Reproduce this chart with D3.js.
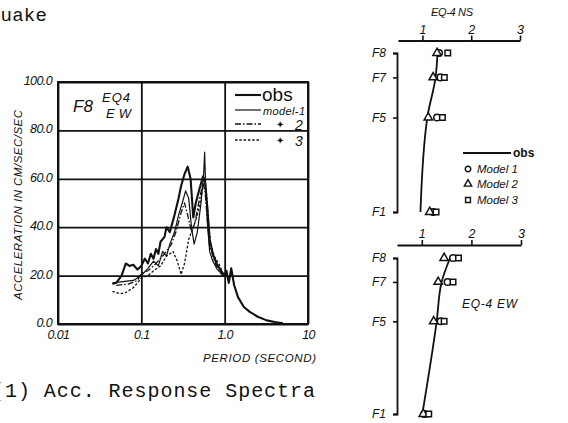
<!DOCTYPE html>
<html>
<head>
<meta charset="utf-8">
<script src="https://cdn.jsdelivr.net/npm/d3@7"></script>
<style>
  body { margin: 0; background: #fff; }
  svg { display: block; }
  text { fill: #111; font-family: "Liberation Sans", Arial, sans-serif; }
  .it { font-style: italic; }
  .mono { font-family: "Liberation Mono", "DejaVu Sans Mono", monospace; }
</style>
</head>
<body>
<svg id="chart" width="568" height="423"></svg>
<script>
// ---- spectrum (left panel) ----
var periodTicks = [0.01, 0.1, 1, 10];
var periodTickLabels = ["0.01", "0.1", "1.0", "10"];
var accTicks = [0, 20, 40, 60, 80, 100];

// [period (s), acceleration (cm/s/s)]
var obsSpectrum = [[0.045,16.5],[0.05,17],[0.058,20],[0.065,25],[0.072,24],[0.08,24.5],[0.09,22.5],[0.1,24],
  [0.11,27],[0.12,25],[0.13,29],[0.14,27],[0.15,31],[0.16,29],[0.17,34],[0.19,36],[0.2,40],[0.22,38],
  [0.25,45],[0.28,52],[0.3,57],[0.33,62],[0.36,65],[0.39,60],[0.42,44],[0.45,50],[0.5,56],[0.55,61],
  [0.58,59],[0.62,48],[0.66,35],[0.72,29],[0.8,25],[0.9,22],[1.0,20],[1.05,22],[1.12,17],[1.2,23],
  [1.3,16],[1.45,11],[1.7,7],[2.0,5],[2.5,3],[3.2,1.5],[4.0,0.8],[5.0,0.3]];
var model1Spectrum = [[0.045,17],[0.06,17.5],[0.08,18],[0.1,20],[0.12,23],[0.14,26],[0.16,24],[0.18,30],
  [0.2,28],[0.22,33],[0.25,38],[0.28,45],[0.31,50],[0.34,55],[0.37,52],[0.4,40],[0.43,33],[0.47,38],
  [0.52,50],[0.56,62],[0.575,71],[0.59,58],[0.62,42],[0.66,30],[0.72,26],[0.8,23],[0.9,21],[1.0,20]];
var model2Spectrum = [[0.05,16],[0.07,16.5],[0.09,18],[0.1,21],[0.12,22],[0.14,24],[0.17,27],[0.2,30],
  [0.23,33],[0.26,38],[0.3,46],[0.33,50],[0.36,45],[0.4,38],[0.44,42],[0.5,52],[0.55,58],[0.58,55],
  [0.62,43],[0.66,32],[0.7,30],[0.75,26],[0.85,22],[0.95,20]];
var model3Spectrum = [[0.045,13.5],[0.055,12.5],[0.065,13],[0.08,15],[0.09,17],[0.1,19],[0.12,20],[0.14,22],
  [0.17,24],[0.2,28],[0.24,30],[0.27,26],[0.3,20.5],[0.33,25],[0.37,35],[0.42,40],[0.47,45],[0.52,52],
  [0.57,60],[0.6,56],[0.64,42],[0.68,33],[0.75,28],[0.85,25],[0.95,21],[1.0,20.5]];

// ---- floor profiles (right panels) ----
var floorNames = ["F1", "F5", "F7", "F8"];
var floorHeights = [0, 12, 17.1, 20.2];
var ratioTicks = [1, 2, 3];

var nsObs    = [0.96, 1.10, 1.27, 1.31];
var nsModel1 = [1.22, 1.30, 1.37, 1.34];
var nsModel2 = [1.15, 1.12, 1.22, 1.30];
var nsModel3 = [1.28, 1.41, 1.45, 1.52];

var ewObs    = [1.01, 1.30, 1.40, 1.57];
var ewModel1 = [1.05, 1.38, 1.52, 1.63];
var ewModel2 = [1.03, 1.24, 1.33, 1.45];
var ewModel3 = [1.14, 1.45, 1.63, 1.74];

var svg = d3.select("#chart");
var ink = "#111";

// page text fragments (cropped at the left edge, as in the scan)
svg.append("text").attr("class", "mono").attr("x", -70).attr("y", 21)
  .attr("font-size", 19).attr("textLength", 117).text("Earthquake");
svg.append("text").attr("class", "mono").attr("x", -8).attr("y", 397)
  .attr("font-size", 20).attr("textLength", 323).text("(1) Acc. Response Spectra");

// ================= left: spectrum =================
var xL = d3.scaleLog().domain([0.01, 10]).range([58, 308]);
var yL = d3.scaleLinear().domain([0, 100]).range([324, 82]);

var gy = svg.append("g").attr("transform", "translate(58,0)")
  .call(d3.axisLeft(yL).tickValues(accTicks).tickSize(-250).tickPadding(6)
    .tickFormat(d3.format(".1f")));
var gx = svg.append("g").attr("transform", "translate(0,324)")
  .call(d3.axisBottom(xL).tickValues(periodTicks).tickSize(-242).tickPadding(6)
    .tickFormat(function(d, i) { return periodTickLabels[i]; }));
[gy, gx].forEach(function(g) {
  g.select(".domain").remove();
  g.selectAll("line").attr("stroke", ink).attr("stroke-width", 1.8);
  g.selectAll("text").attr("class", "it").attr("font-size", 12.5)
    .attr("fill", ink).attr("letter-spacing", -0.6);
});
gy.selectAll("text").attr("dy", "0.2em");

svg.append("rect").attr("x", 58).attr("y", 82).attr("width", 250).attr("height", 242)
  .attr("fill", "none").attr("stroke", ink).attr("stroke-width", 2);

var specLine = d3.line()
  .x(function(d) { return xL(d[0]); })
  .y(function(d) { return yL(d[1]); });

var specSeries = [
  { data: model3Spectrum, w: 1.3, dash: "2.5,1.8" },
  { data: model2Spectrum, w: 1.3, dash: "6,2,1.5,2" },
  { data: model1Spectrum, w: 1.2, dash: null },
  { data: obsSpectrum,    w: 2.1, dash: null }
];
specSeries.forEach(function(s) {
  svg.append("path").datum(s.data).attr("d", specLine)
    .attr("fill", "none").attr("stroke", ink).attr("stroke-width", s.w)
    .attr("stroke-linejoin", "round").attr("stroke-dasharray", s.dash);
});

// axis titles
svg.append("text").attr("class", "it").attr("font-size", 11.5)
  .attr("transform", "translate(22,205) rotate(-90)").attr("text-anchor", "middle")
  .attr("textLength", 190).text("ACCELERATION IN CM/SEC/SEC");
svg.append("text").attr("class", "it").attr("font-size", 11.5).attr("x", 203).attr("y", 362)
  .attr("textLength", 113).text("PERIOD  (SECOND)");

// panel label
svg.append("text").attr("class", "it").attr("font-size", 17).attr("x", 73).attr("y", 112).text("F8");
svg.append("text").attr("class", "it").attr("font-size", 13).attr("x", 102).attr("y", 102)
  .attr("textLength", 28).text("EQ4");
svg.append("text").attr("class", "it").attr("font-size", 13).attr("x", 106).attr("y", 118)
  .attr("textLength", 25).text("EW");

// legend
var legL = [
  { y: 95,  w: 2.1, dash: null, label: "obs" },
  { y: 110, w: 1.2, dash: null, label: "model-1" },
  { y: 124, w: 1.3, dash: "6,2,1.5,2", label: "2" },
  { y: 140, w: 1.3, dash: "2.5,1.8", label: "3" }
];
legL.forEach(function(d, i) {
  svg.append("line").attr("x1", 235).attr("x2", 261).attr("y1", d.y).attr("y2", d.y)
    .attr("stroke", ink).attr("stroke-width", d.w).attr("stroke-dasharray", d.dash);
  if (i === 0) {
    svg.append("text").attr("x", 262).attr("y", d.y + 6).attr("font-size", 19).text(d.label);
  } else if (i === 1) {
    svg.append("text").attr("class", "it").attr("x", 263).attr("y", d.y + 5)
      .attr("font-size", 11).attr("textLength", 42).text(d.label);
  } else {
    svg.append("text").attr("x", 276).attr("y", d.y + 4).attr("font-size", 10).text("\u2726");
    svg.append("text").attr("class", "it").attr("x", 295).attr("y", d.y + 6)
      .attr("font-size", 14).text(d.label);
  }
});

// ================= right: floor profiles =================
function profile(opts) {
  var x = d3.scaleLinear().domain([0.5, 3]).range(opts.xr);
  var y = d3.scaleLinear().domain([0, 20.2]).range(opts.yr);

  var ga = svg.append("g").attr("transform", "translate(0," + opts.axisY + ")")
    .call(d3.axisTop(x).tickValues(ratioTicks).tickSize(5).tickSizeOuter(0).tickPadding(2)
      .tickFormat(d3.format("d")));
  var gf = svg.append("g").attr("transform", "translate(" + opts.floorX + ",0)")
    .call(d3.axisLeft(y).tickValues(floorHeights).tickSize(4).tickSizeOuter(4).tickPadding(7)
      .tickFormat(function(d, i) { return floorNames[i]; }));
  [ga, gf].forEach(function(g) {
    g.select(".domain").attr("stroke", ink).attr("stroke-width", 1.8);
    g.selectAll("line").attr("stroke", ink).attr("stroke-width", 1.6);
    g.selectAll("text").attr("class", "it").attr("fill", ink).attr("font-size", 12.5);
  });
  gf.selectAll("text").attr("font-size", 12);

  var pts = function(vals) {
    return vals.map(function(v, i) { return [x(v), y(floorHeights[i])]; });
  };
  svg.append("path").datum(pts(opts.obs)).attr("d", d3.line().curve(d3.curveMonotoneY))
    .attr("fill", "none").attr("stroke", ink).attr("stroke-width", 1.8);

  var models = [
    { vals: opts.m1, sym: d3.symbolCircle, size: 34 },
    { vals: opts.m2, sym: d3.symbolTriangle, size: 30 },
    { vals: opts.m3, sym: d3.symbolSquare, size: 30 }
  ];
  models.forEach(function(m) {
    svg.append("g").selectAll("path").data(pts(m.vals)).enter().append("path")
      .attr("transform", function(d) { return "translate(" + d[0] + "," + d[1] + ")"; })
      .attr("d", d3.symbol().type(m.sym).size(m.size))
      .attr("fill", "#fff").attr("stroke", ink).attr("stroke-width", 1.5);
  });
}

profile({ xr: [398, 520], yr: [212, 53], axisY: 40.5, floorX: 397,
  obs: nsObs, m1: nsModel1, m2: nsModel2, m3: nsModel3 });
profile({ xr: [397, 521], yr: [414, 258], axisY: 245, floorX: 397,
  obs: ewObs, m1: ewModel1, m2: ewModel2, m3: ewModel3 });

svg.append("text").attr("class", "it").attr("font-size", 11).attr("x", 431).attr("y", 16)
  .attr("textLength", 42).text("EQ-4 NS");
svg.append("text").attr("class", "it").attr("font-size", 12).attr("x", 462).attr("y", 308)
  .attr("textLength", 55).text("EQ-4 EW");

// profile legend
svg.append("line").attr("x1", 463).attr("x2", 511).attr("y1", 153).attr("y2", 153)
  .attr("stroke", ink).attr("stroke-width", 1.8);
svg.append("text").attr("x", 513).attr("y", 157).attr("font-size", 12)
  .attr("font-weight", "bold").text("obs");
var legR = [
  { sym: d3.symbolCircle, label: "Model 1", y: 169 },
  { sym: d3.symbolTriangle, label: "Model 2", y: 184 },
  { sym: d3.symbolSquare, label: "Model 3", y: 200 }
];
legR.forEach(function(d) {
  svg.append("path").attr("transform", "translate(468," + d.y + ")")
    .attr("d", d3.symbol().type(d.sym).size(24))
    .attr("fill", "#fff").attr("stroke", ink).attr("stroke-width", 1.4);
  svg.append("text").attr("class", "it").attr("x", 477).attr("y", d.y + 4)
    .attr("font-size", 11.5).text(d.label);
});
</script>
</body>
</html>
